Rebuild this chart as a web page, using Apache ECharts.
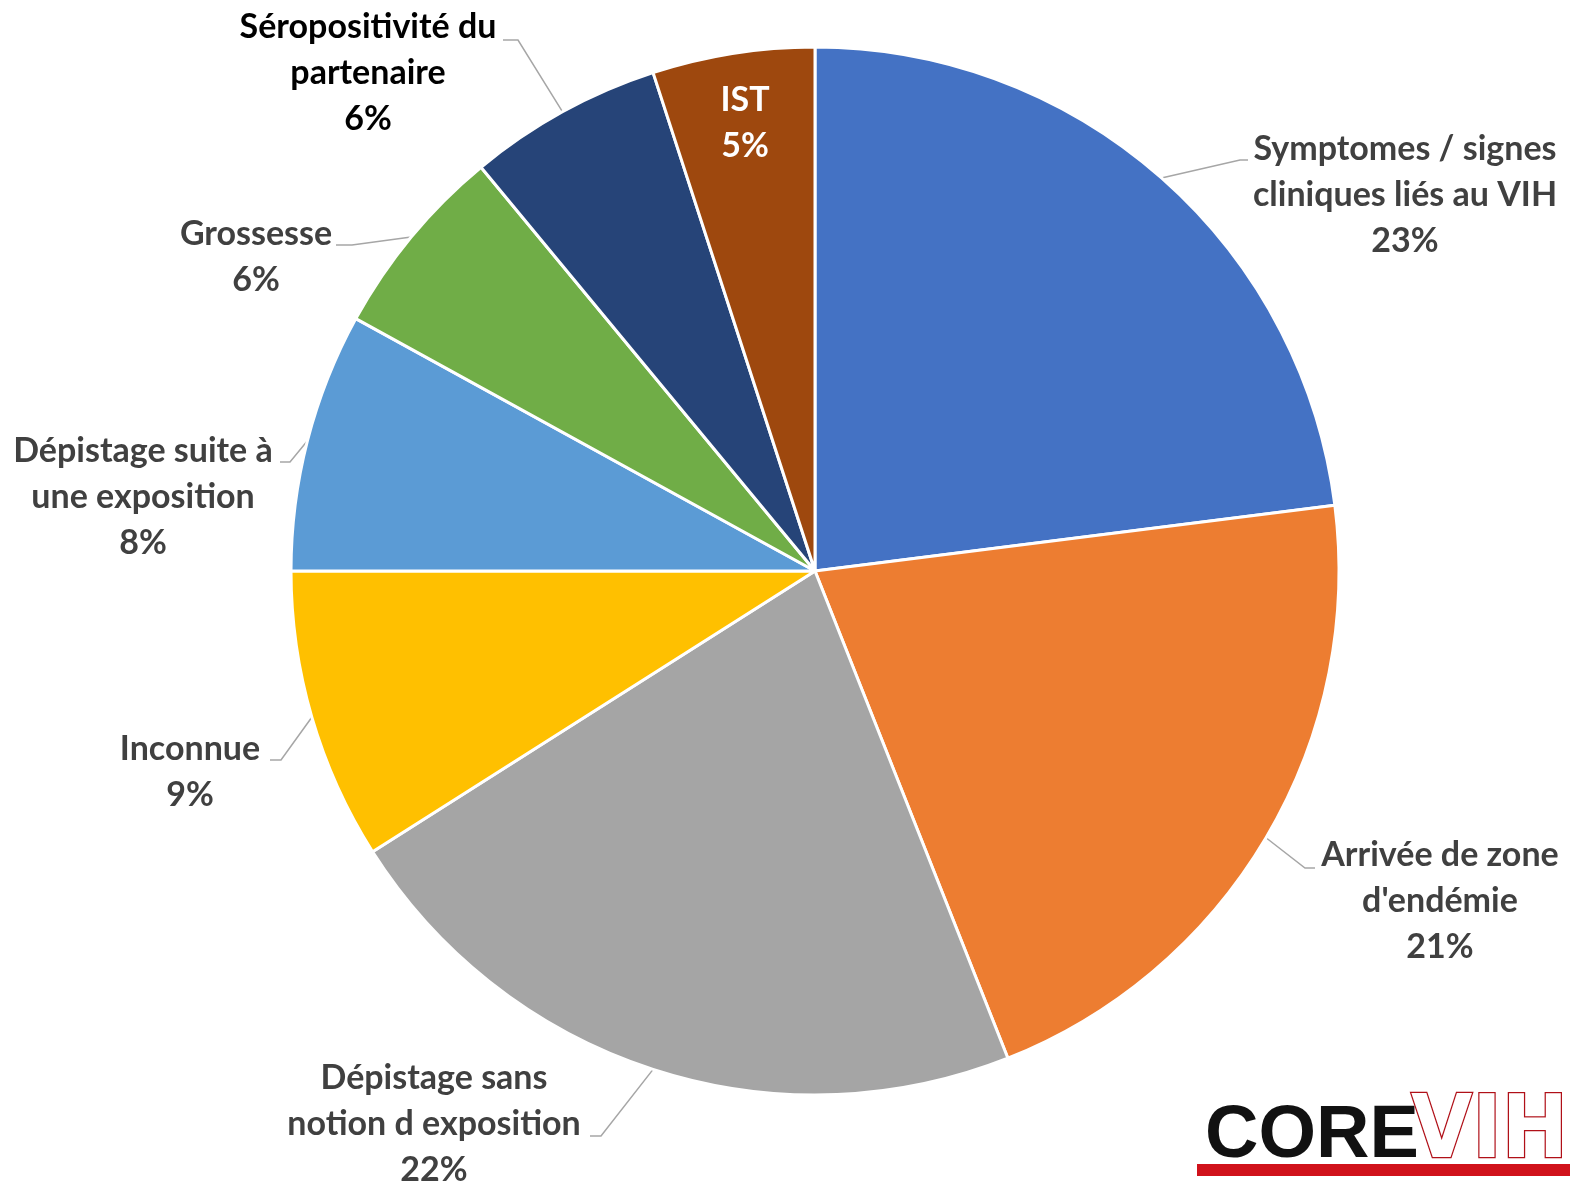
<!DOCTYPE html>
<html>
<head>
<meta charset="utf-8">
<title>Circonstances de découverte VIH</title>
<script src="https://cdn.jsdelivr.net/npm/echarts@6/dist/echarts.min.js"></script>
<style>
  html, body { margin: 0; padding: 0; background: #ffffff; }
  #chart { width: 1570px; height: 1185px; }
</style>
</head>
<body>
<div id="chart"></div>
<script>
// Circonstances de découverte (parts en %)
const categories = [
  'Symptomes / signes\ncliniques liés au VIH',
  "Arrivée de zone\nd'endémie",
  'Dépistage sans\nnotion d exposition',
  'Inconnue',
  'Dépistage suite à\nune exposition',
  'Grossesse',
  'Séropositivité du\npartenaire',
  'IST'
];
const shares = [23, 21, 22, 9, 8, 6, 6, 5];
const sliceColors = ['#4472C4', '#ED7D31', '#A5A5A5', '#FFC000', '#5B9BD5', '#70AD47', '#264478', '#9E480E'];

// Label placement: block centre, then the elbow and end of the leader line
const labelSpots = [
  { x: 1405, y: 195, line: [[1240, 160], [1248, 160]] },
  { x: 1440, y: 901, line: [[1305, 868], [1315, 868]] },
  { x: 434, y: 1124, line: [[601, 1136], [590, 1136]] },
  { x: 190, y: 772, line: [[281, 760], [270, 760]] },
  { x: 143, y: 497, line: [[290, 462], [280, 462]] },
  { x: 256, y: 257, line: [[352, 245], [336, 245]] },
  { x: 368, y: 73, line: [[518, 40], [503, 40]] },
  { x: 745, y: 123, line: null }
];

const chart = echarts.init(document.getElementById('chart'), null, { renderer: 'canvas' });

const seriesData = categories.map((name, i) => {
  const item = { name: name, value: shares[i], itemStyle: { color: sliceColors[i] } };
  if (i === 6) item.label = { color: '#000000' };
  if (i === 7) item.label = { color: '#ffffff' };
  if (labelSpots[i].line === null) item.labelLine = { show: false };
  return item;
});

chart.setOption({
  backgroundColor: '#ffffff',
  animation: false,
  series: [{
    type: 'pie',
    center: [815, 571],
    radius: 524,
    startAngle: 90,
    clockwise: true,
    avoidLabelOverlap: false,
    data: seriesData,
    itemStyle: { borderColor: '#ffffff', borderWidth: 3 },
    label: {
      show: true,
      position: 'outside',
      formatter: '{b}\n{c}%',
      fontFamily: 'Lato',
      fontWeight: 'bold',
      fontSize: 34,
      lineHeight: 46,
      color: '#404040',
      align: 'center'
    },
    labelLine: {
      show: true,
      length: 10,
      length2: 10,
      lineStyle: { color: '#A6A6A6', width: 1.5 }
    },
    labelLayout: function (params) {
      const spot = labelSpots[params.dataIndex];
      const out = { x: spot.x, y: spot.y, align: 'center', verticalAlign: 'middle', hideOverlap: false };
      if (spot.line && params.labelLinePoints) {
        out.labelLinePoints = [params.labelLinePoints[0], spot.line[0], spot.line[1]];
      }
      return out;
    }
  }],
  graphic: [
    { type: 'rect', shape: { x: 1197, y: 1164, width: 380, height: 12 }, style: { fill: '#D0121B' } },
    {
      type: 'text', x: 1205, y: 1100,
      style: { text: 'CORE', fontFamily: 'Liberation Sans', fontWeight: 'bold', fontSize: 74, fill: '#111111' }
    },
    {
      type: 'text', x: 1411, y: 1090,
      style: {
        text: 'VIH', fontFamily: 'Liberation Sans Narrow, DejaVu Sans Condensed, Liberation Sans',
        fontWeight: 'bold', fontSize: 88, fill: '#ffffff', stroke: '#B01018', lineWidth: 2.5
      }
    }
  ]
});
</script>
</body>
</html>
